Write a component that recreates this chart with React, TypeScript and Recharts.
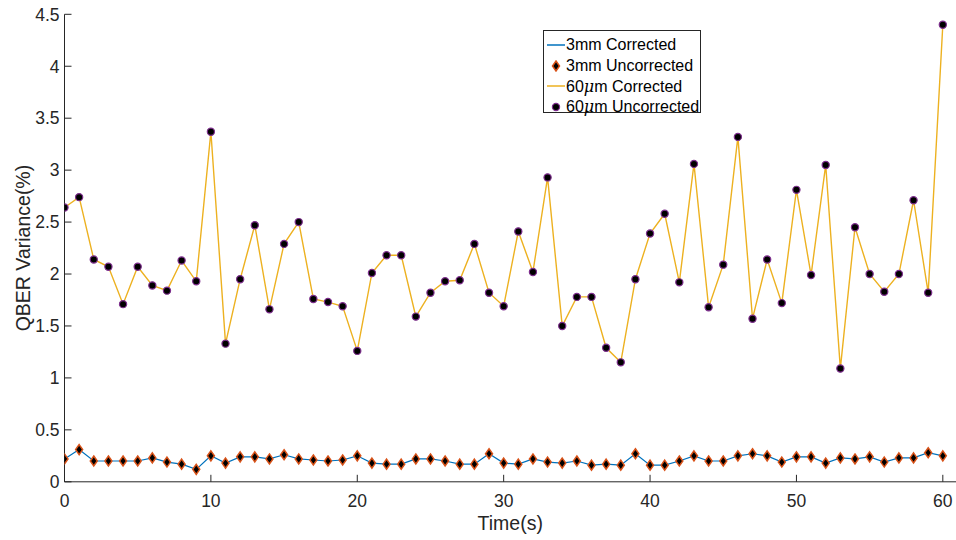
import { LineChart, Line, XAxis, YAxis, Label } from "recharts";

const time = [
  0, 1, 2, 3, 4, 5, 6, 7, 8, 9, 10, 11, 12, 13, 14, 15, 16, 17, 18, 19, 20,
  21, 22, 23, 24, 25, 26, 27, 28, 29, 30, 31, 32, 33, 34, 35, 36, 37, 38, 39,
  40, 41, 42, 43, 44, 45, 46, 47, 48, 49, 50, 51, 52, 53, 54, 55, 56, 57, 58,
  59, 60,
];

const corrected3mm = [
  0.22, 0.31, 0.2, 0.2, 0.2, 0.2, 0.23, 0.19, 0.17, 0.12,
  0.25, 0.18, 0.24, 0.24, 0.22, 0.26, 0.22, 0.21, 0.2, 0.21,
  0.25, 0.18, 0.17, 0.17, 0.22, 0.22, 0.2, 0.17, 0.17, 0.27,
  0.18, 0.17, 0.22, 0.19, 0.18, 0.2, 0.16, 0.17, 0.16, 0.27,
  0.16, 0.16, 0.2, 0.25, 0.2, 0.2, 0.25, 0.27, 0.25, 0.19,
  0.24, 0.24, 0.18, 0.23, 0.22, 0.24, 0.19, 0.23, 0.23, 0.28, 0.25,
];
// markers sit exactly on the corrected line in the figure
const uncorrected3mm = corrected3mm;

const corrected60um = [
  2.64, 2.74, 2.14, 2.07, 1.71, 2.07, 1.89, 1.84, 2.13, 1.93,
  3.37, 1.33, 1.95, 2.47, 1.66, 2.29, 2.5, 1.76, 1.73, 1.69,
  1.26, 2.01, 2.18, 2.18, 1.59, 1.82, 1.93, 1.94, 2.29, 1.82,
  1.69, 2.41, 2.02, 2.93, 1.5, 1.78, 1.78, 1.29, 1.15, 1.95,
  2.39, 2.58, 1.92, 3.06, 1.68, 2.09, 3.32, 1.57, 2.14, 1.72,
  2.81, 1.99, 3.05, 1.09, 2.45, 2.0, 1.83, 2.0, 2.71, 1.82, 4.4,
];
const uncorrected60um = corrected60um;

const xTicks = [0, 10, 20, 30, 40, 50, 60];
const yTicks = [0, 0.5, 1, 1.5, 2, 2.5, 3, 3.5, 4, 4.5];

const BLUE = "#0072BD";
const ORANGE = "#D95319";
const YELLOW = "#EDB120";
const PURPLE = "#7E2F8E";
const INK = "#262626";
const FONT = "'Liberation Sans', Arial, Helvetica, sans-serif";
const TICK_LEN = 7;

const data = time.map((t, i) => ({
  t,
  c3: corrected3mm[i],
  u3: uncorrected3mm[i],
  c60: corrected60um[i],
  u60: uncorrected60um[i],
}));

const BottomTick = (p: any) => (
  <g>
    <line x1={p.x} x2={p.x} y1={p.y - 13} y2={p.y - 13 - TICK_LEN} stroke={INK} />
    <text x={p.x} y={p.y} dy="0.71em" textAnchor="middle" fill={INK} fontSize={17.5} fontFamily={FONT}>
      {p.payload.value}
    </text>
  </g>
);

const LeftTick = (p: any) => (
  <g>
    <line x1={p.x + 5} x2={p.x + 5 + TICK_LEN} y1={p.y} y2={p.y} stroke={INK} />
    <text x={p.x} y={p.y} dy="0.36em" textAnchor="end" fill={INK} fontSize={17.5} fontFamily={FONT}>
      {p.payload.value}
    </text>
  </g>
);

const TopTick = (p: any) => (
  <line x1={p.x} x2={p.x} y1={p.y} y2={p.y + TICK_LEN} stroke={INK} />
);

const RightTick = (p: any) => (
  <line x1={p.x - TICK_LEN} x2={p.x} y1={p.y} y2={p.y} stroke={INK} />
);

const Diamond = (p: any) => (
  <path
    key={`d${p.index}`}
    d={`M${p.cx},${p.cy - 5} L${p.cx + 3.5},${p.cy} L${p.cx},${p.cy + 5} L${p.cx - 3.5},${p.cy} Z`}
    fill="#000"
    stroke={ORANGE}
    strokeWidth={1.5}
  />
);

const Circle = (p: any) => (
  <circle key={`c${p.index}`} cx={p.cx} cy={p.cy} r={3.6} fill="#000" stroke={PURPLE} strokeWidth={1.2} />
);

const legendRows = [
  { kind: "line", color: BLUE, pre: "3mm", post: " Corrected" },
  { kind: "diamond", color: ORANGE, pre: "3mm", post: " Uncorrected" },
  { kind: "line", color: YELLOW, pre: "60", mu: true, post: "m Corrected" },
  { kind: "circle", color: PURPLE, pre: "60", mu: true, post: "m Uncorrected" },
];

function ChartLegend() {
  return (
    <div
      style={{
        position: "absolute",
        left: 543,
        top: 30,
        width: 158,
        height: 83,
        border: `1px solid ${INK}`,
        background: "#fff",
        paddingTop: 4,
        boxSizing: "border-box",
        fontFamily: FONT,
        fontSize: 16,
        color: "#000",
      }}
    >
      {legendRows.map((r) => (
        <div key={r.pre + r.post} style={{ display: "flex", alignItems: "center", height: 20.5 }}>
          <svg width={20} height={12} style={{ marginLeft: 2, flexShrink: 0 }}>
            {r.kind === "line" && <line x1={1} x2={19} y1={6} y2={6} stroke={r.color} strokeWidth={1.5} />}
            {r.kind === "diamond" && (
              <path d="M10,1 L13.5,6 L10,11 L6.5,6 Z" fill="#000" stroke={r.color} strokeWidth={1.5} />
            )}
            {r.kind === "circle" && <circle cx={10} cy={6} r={3.6} fill="#000" stroke={r.color} strokeWidth={1.2} />}
          </svg>
          <span style={{ whiteSpace: "nowrap" }}>
            {r.pre}
            {r.mu && <i style={{ fontFamily: "'DejaVu Serif', serif" }}>μ</i>}
            {r.post}
          </span>
        </div>
      ))}
    </div>
  );
}

export default function App() {
  return (
    <div style={{ position: "absolute", left: 0, top: 0, width: 956, height: 540, overflow: "hidden", background: "#fff" }}>
      <LineChart width={956} height={540} data={data} margin={{ top: 14.3, right: 0, bottom: 0, left: 0 }}>
        <XAxis
          dataKey="t"
          type="number"
          domain={[0, 60.9]}
          ticks={xTicks}
          interval={0}
          allowDataOverflow
          height={58.2}
          tickSize={0}
          tickMargin={13}
          tick={(p: any) => <BottomTick {...p} />}
          axisLine={{ stroke: INK }}
        >
          <Label
            content={(p: any) => (
              <text
                x={p.viewBox.x + p.viewBox.width / 2}
                y={p.viewBox.y + 48}
                textAnchor="middle"
                fill={INK}
                fontSize={19.5}
                fontFamily={FONT}
              >
                Time(s)
              </text>
            )}
          />
        </XAxis>
        <XAxis
          xAxisId="top"
          orientation="top"
          type="number"
          domain={[0, 60.9]}
          ticks={xTicks}
          interval={0}
          allowDataOverflow
          height={0}
          tickSize={0}
          tickMargin={0}
          tick={(p: any) => <TopTick {...p} />}
          axisLine={{ stroke: INK }}
        />
        <YAxis
          type="number"
          domain={[0, 4.5]}
          ticks={yTicks}
          interval={0}
          allowDataOverflow
          width={64.5}
          tickSize={0}
          tickMargin={5}
          tick={(p: any) => <LeftTick {...p} />}
          axisLine={{ stroke: INK }}
        >
          <Label
            content={(p: any) => {
              const cx = p.viewBox.x + 23;
              const cy = p.viewBox.y + p.viewBox.height / 2;
              return (
                <text
                  x={cx}
                  y={cy}
                  transform={`rotate(-90 ${cx} ${cy})`}
                  textAnchor="middle"
                  dy="0.36em"
                  fill={INK}
                  fontSize={19.5}
                  fontFamily={FONT}
                >
                  QBER Variance(%)
                </text>
              );
            }}
          />
        </YAxis>
        <YAxis
          yAxisId="right"
          orientation="right"
          type="number"
          domain={[0, 4.5]}
          ticks={yTicks}
          interval={0}
          allowDataOverflow
          width={0}
          tickSize={0}
          tickMargin={0}
          tick={(p: any) => <RightTick {...p} />}
          axisLine={{ stroke: INK }}
        />
        <Line dataKey="c3" stroke={BLUE} strokeWidth={1.2} dot={false} activeDot={false} isAnimationActive={false} />
        <Line dataKey="u3" stroke="none" dot={(p: any) => <Diamond {...p} />} activeDot={false} isAnimationActive={false} />
        <Line dataKey="c60" stroke={YELLOW} strokeWidth={1.4} dot={false} activeDot={false} isAnimationActive={false} />
        <Line dataKey="u60" stroke="none" dot={(p: any) => <Circle {...p} />} activeDot={false} isAnimationActive={false} />
      </LineChart>
      <ChartLegend />
    </div>
  );
}
